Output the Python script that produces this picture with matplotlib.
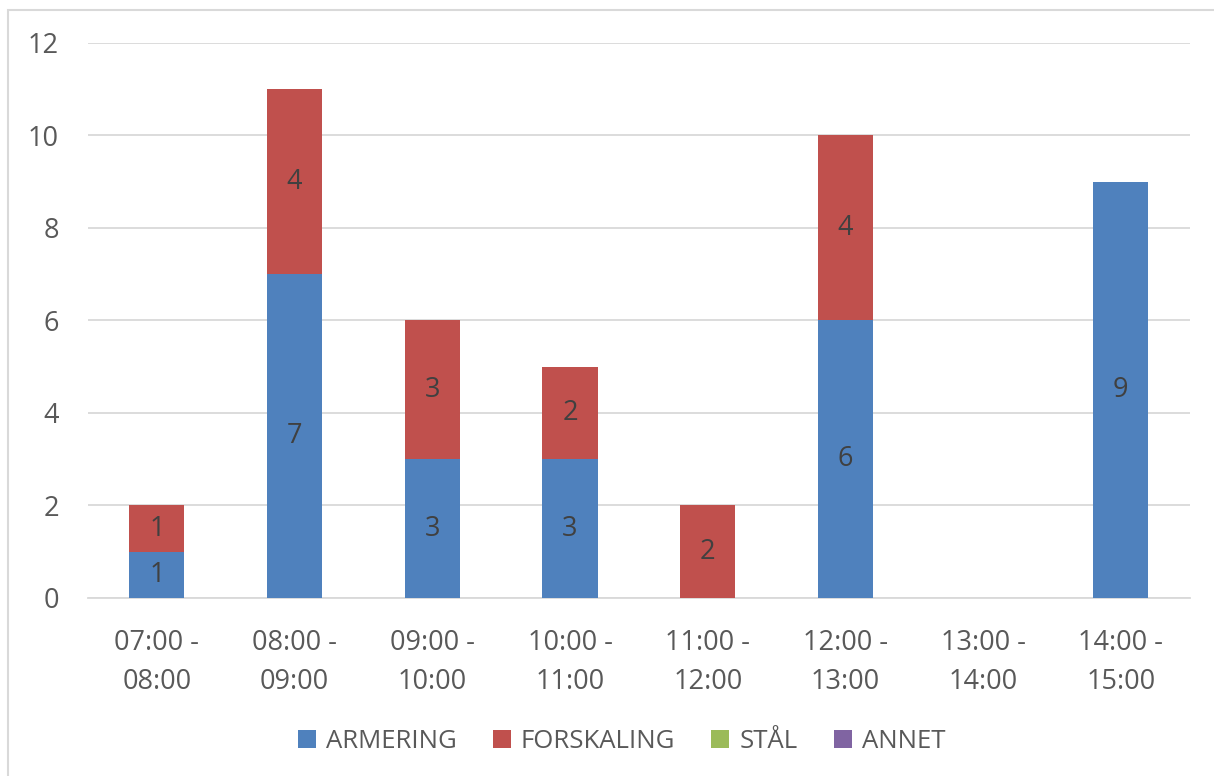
import matplotlib.pyplot as plt
import numpy as np
from matplotlib.patches import Rectangle

intervals = ['07:00 -\n08:00', '08:00 -\n09:00', '09:00 -\n10:00', '10:00 -\n11:00',
             '11:00 -\n12:00', '12:00 -\n13:00', '13:00 -\n14:00', '14:00 -\n15:00']
armering = [1, 7, 3, 3, 0, 6, 0, 9]
forskaling = [1, 4, 3, 2, 2, 4, 0, 0]
staal = [0, 0, 0, 0, 0, 0, 0, 0]
annet = [0, 0, 0, 0, 0, 0, 0, 0]

series = [('ARMERING', armering, '#4F81BD'),
          ('FORSKALING', forskaling, '#C0504D'),
          ('STÅL', staal, '#9BBB59'),
          ('ANNET', annet, '#8064A2')]

plt.rcParams['font.family'] = ['Open Sans', 'DejaVu Sans']
txt = '#595959'
fs = 19.5

fig = plt.figure(figsize=(12.14, 7.76), dpi=100)
ax = fig.add_axes([0.0725, 0.2294, 0.9075, 0.7152])

x = np.arange(len(intervals))
bottom = np.zeros(len(intervals))
for name, vals, col in series:
    vals = np.array(vals, dtype=float)
    bars = ax.bar(x, vals, 0.4, bottom=bottom, color=col, label=name, zorder=3)
    for b, v, b0 in zip(bars, vals, bottom):
        if v > 0:
            ax.text(b.get_x() + b.get_width() / 2, b0 + v / 2, f'{int(v)}',
                    ha='center', va='center', fontsize=fs, color='#404040', zorder=4)
    bottom += vals

ax.set_xlim(-0.5, len(intervals) - 0.5)
ax.set_ylim(0, 12)
ax.set_yticks(range(0, 13, 2))
ax.set_xticks(x)
ax.set_xticklabels(intervals, linespacing=1.55)
ax.tick_params(axis='both', length=0, labelsize=fs, colors=txt)
ax.tick_params(axis='y', pad=21)
ax.tick_params(axis='x', pad=22)
ax.grid(axis='y', color='#D9D9D9', linewidth=1.3, zorder=0)
for s in ['top', 'right', 'left']:
    ax.spines[s].set_visible(False)
ax.spines['bottom'].set_color('#D9D9D9')
ax.spines['bottom'].set_linewidth(1.3)

leg = fig.legend(loc='center', bbox_to_anchor=(0.512, 0.044), ncol=4, frameon=False,
                 fontsize=18.5, handlelength=0.7, handleheight=0.7, handletextpad=0.4,
                 columnspacing=1.4)
for t in leg.get_texts():
    t.set_color(txt)

# outer chart border (top and left edges visible)
fig.patches.append(Rectangle((8 / 1214, -0.1), 1.2, 1 - 10 / 776 + 0.1,
                             transform=fig.transFigure, fill=False,
                             edgecolor='#D9D9D9', linewidth=1.5))

fig.savefig('out.png', dpi=100)
